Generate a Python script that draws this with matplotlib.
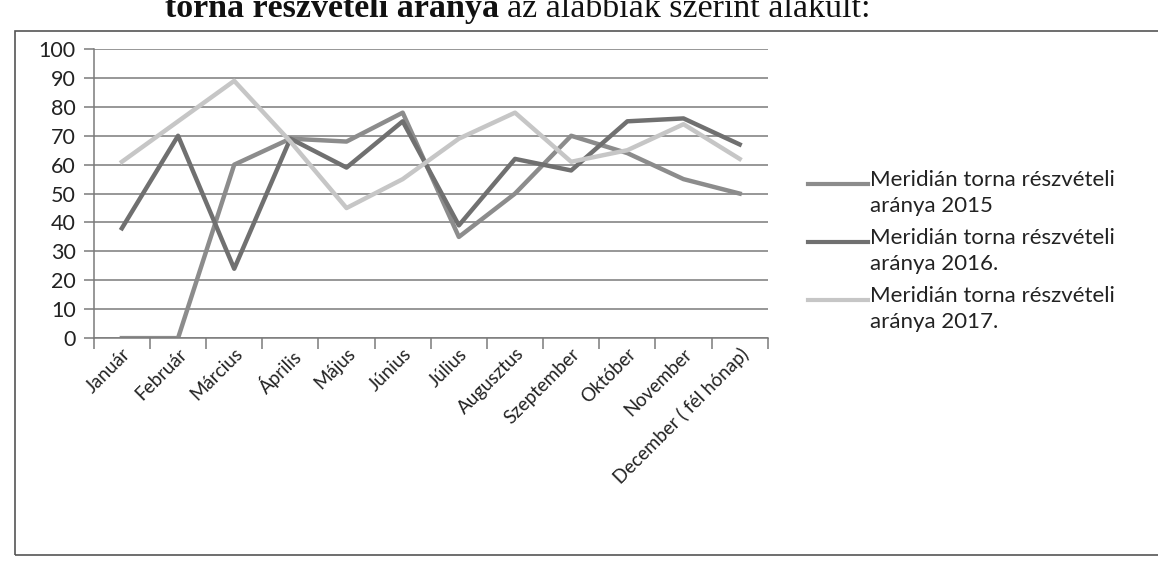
import matplotlib.pyplot as plt
from matplotlib.lines import Line2D
from matplotlib.patches import Rectangle

months = ['Január', 'Február', 'Március', 'Április', 'Május', 'Június',
          'Július', 'Augusztus', 'Szeptember', 'Október', 'November',
          'December ( fél hónap)']
v2015 = [0, 0, 60, 69, 68, 78, 35, 50, 70, 64, 55, 50]
v2016 = [38, 70, 24, 69, 59, 75, 39, 62, 58, 75, 76, 67]
v2017 = [61, 75, 89, 68, 45, 55, 69, 78, 61, 65, 74, 62]
labels = ['Meridián torna részvételi\naránya 2015',
          'Meridián torna részvételi\naránya 2016.',
          'Meridián torna részvételi\naránya 2017.']
colors = ['#8c8c8c', '#707070', '#c6c6c6']

plt.rcParams['font.family'] = ['Lato', 'DejaVu Sans']

W, H = 1158, 577
fig = plt.figure(figsize=(W / 100, H / 100), dpi=100)
ax = fig.add_axes([0.081, 0.414, 0.582, 0.501])

x = list(range(len(months)))
for vals, c in zip([v2015, v2016, v2017], colors):
    ax.plot(x, vals, color=c, lw=3.2)

ax.set_xlim(-0.5, len(months) - 0.5)
ax.set_ylim(0, 100)
ax.set_yticks(range(0, 101, 10))
ax.yaxis.grid(True, color='#7a7a7a', lw=1.1)
ax.set_axisbelow(True)
ax.set_xticks([i - 0.5 for i in range(len(months) + 1)])
ax.set_xticklabels([])
ax.set_xticks(x, minor=True)
ax.set_xticklabels(months, minor=True, rotation=45, ha='right',
                   rotation_mode='anchor', fontsize=13.5, color='#222222')
ax.tick_params(axis='x', which='minor', length=0, pad=5)
ax.tick_params(axis='x', which='major', length=8, color='#7a7a7a', width=1.1)
ax.tick_params(axis='y', length=7, color='#7a7a7a', width=1.1,
               labelsize=15.5, labelcolor='#222222', pad=6)
for s in ['top', 'right']:
    ax.spines[s].set_visible(False)
for s in ['left', 'bottom']:
    ax.spines[s].set_color('#7a7a7a')
    ax.spines[s].set_linewidth(1.1)

# legend, drawn by hand: sample line next to the first text line
for i, (lab, c) in enumerate(zip(labels, colors)):
    y = 184 + 58 * i
    fig.add_artist(Line2D([808 / W, 868 / W], [1 - y / H, 1 - y / H],
                          color=c, lw=3, transform=fig.transFigure))
    fig.text(870 / W, 1 - (y - 14) / H, lab, fontsize=16, va='top',
             linespacing=1.35, color='#222222')

# outer chart frame
fig.add_artist(Rectangle((15 / W, 1 - 555 / H), 1.2, (555 - 31) / H,
                         transform=fig.transFigure, fill=False,
                         edgecolor='#555555', lw=1.2))

# document text above the chart (top half cut off by the scan)
t1 = fig.text(165 / W, 1 - 17 / H, 'torna részvételi aránya', fontsize=24.5,
              family='Liberation Serif', fontweight='bold', va='baseline',
              color='#111111')
fig.canvas.draw()
bb = t1.get_window_extent()
fig.text((bb.x1 + 8) / W, 1 - 17 / H, 'az alábbiak szerint alakult:', fontsize=24.5,
         family='Liberation Serif', va='baseline', color='#111111')

fig.savefig('out.png', dpi=100)
